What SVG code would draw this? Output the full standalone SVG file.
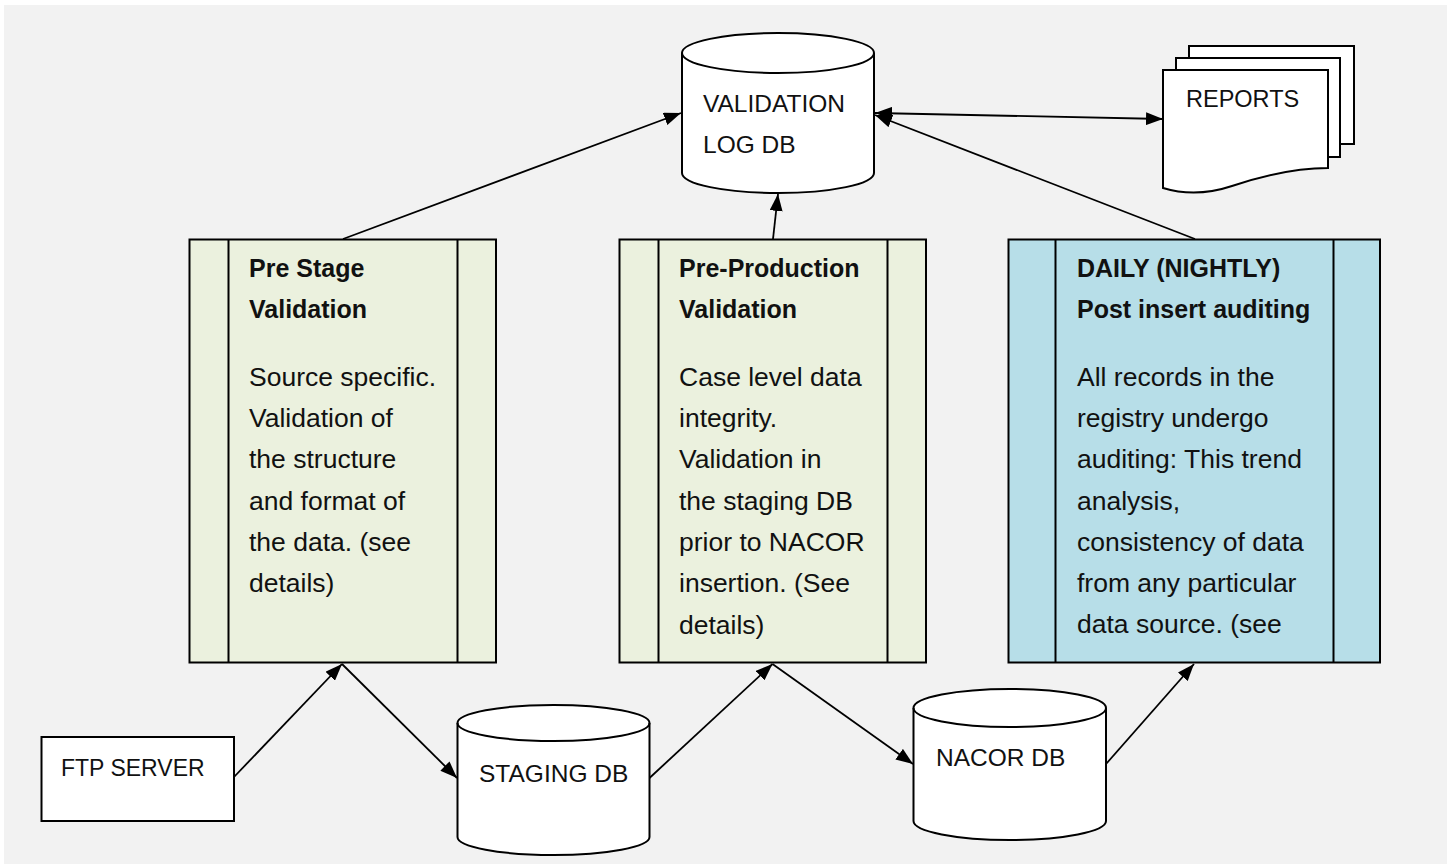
<svg xmlns="http://www.w3.org/2000/svg" width="1447" height="864" viewBox="0 0 1447 864">
<style>
.shape{stroke:#000;stroke-width:2;}
.white{fill:#fff;}
.green{fill:#ebf1de;}
.blue{fill:#b7dee8;}
.lbl{font-family:"Liberation Sans",Arial,sans-serif;font-size:24.5px;fill:#111;}
.ttl{font-family:"Liberation Sans",Arial,sans-serif;font-size:25px;font-weight:bold;fill:#111;}
.body{font-family:"Liberation Sans",Arial,sans-serif;font-size:26.5px;fill:#111;}
.conn{stroke:#000;stroke-width:1.8;fill:none;marker-end:url(#ah);}
</style>
<defs>
<marker id="ah" markerUnits="userSpaceOnUse" markerWidth="17" markerHeight="13" refX="17" refY="6.5" orient="auto-start-reverse">
<path d="M0,0 L17,6.5 L0,13 Z" fill="#000"/>
</marker>
</defs>
<rect x="4" y="5" width="1443" height="859" fill="#f2f2f2"/>

<g id="validation-log-db">
<path class="shape white" d="M682,53 L682,173 A96,20 0 0 0 874,173 L874,53 A96,20 0 0 0 682,53 Z"/>
<path class="shape" fill="none" d="M682,53 A96,20 0 0 0 874,53"/>
<text class="lbl" x="703" y="112">VALIDATION</text>
<text class="lbl" x="703" y="153">LOG DB</text>
</g>

<g id="reports">
<rect class="shape white" x="1189" y="46" width="165" height="98"/>
<rect class="shape white" x="1176" y="58" width="164" height="99"/>
<path class="shape white" d="M1163,70 H1328 V168 C1295,168 1262,176 1232,186 C1208,194 1186,195 1163,188 Z"/>
<text class="lbl" x="1186" y="107" style="font-size:23.5px">REPORTS</text>
</g>

<g id="pre-stage-validation">
<rect class="shape green" x="189.5" y="239.5" width="306.5" height="423"/>
<line class="shape" x1="228.5" y1="239.5" x2="228.5" y2="662.5"/>
<line class="shape" x1="457.5" y1="239.5" x2="457.5" y2="662.5"/>
<text class="ttl" x="249" y="277">Pre Stage</text>
<text class="ttl" x="249" y="318">Validation</text>
<text class="body" x="249" y="386">Source specific.</text>
<text class="body" x="249" y="427">Validation of</text>
<text class="body" x="249" y="468">the structure</text>
<text class="body" x="249" y="510">and format of</text>
<text class="body" x="249" y="551">the data. (see</text>
<text class="body" x="249" y="592">details)</text>
</g>

<g id="pre-production-validation">
<rect class="shape green" x="619.5" y="239.5" width="306.5" height="423"/>
<line class="shape" x1="658.5" y1="239.5" x2="658.5" y2="662.5"/>
<line class="shape" x1="887.5" y1="239.5" x2="887.5" y2="662.5"/>
<text class="ttl" x="679" y="277">Pre-Production</text>
<text class="ttl" x="679" y="318">Validation</text>
<text class="body" x="679" y="386">Case level data</text>
<text class="body" x="679" y="427">integrity.</text>
<text class="body" x="679" y="468">Validation in</text>
<text class="body" x="679" y="510">the staging DB</text>
<text class="body" x="679" y="551">prior to NACOR</text>
<text class="body" x="679" y="592">insertion. (See</text>
<text class="body" x="679" y="634">details)</text>
</g>

<g id="daily-post-insert-auditing">
<rect class="shape blue" x="1008.5" y="239.5" width="371.5" height="423"/>
<line class="shape" x1="1055.5" y1="239.5" x2="1055.5" y2="662.5"/>
<line class="shape" x1="1333.5" y1="239.5" x2="1333.5" y2="662.5"/>
<text class="ttl" x="1077" y="277">DAILY (NIGHTLY)</text>
<text class="ttl" x="1077" y="318">Post insert auditing</text>
<text class="body" x="1077" y="386">All records in the</text>
<text class="body" x="1077" y="427">registry undergo</text>
<text class="body" x="1077" y="468">auditing: This trend</text>
<text class="body" x="1077" y="510">analysis,</text>
<text class="body" x="1077" y="551">consistency of data</text>
<text class="body" x="1077" y="592">from any particular</text>
<text class="body" x="1077" y="633">data source. (see</text>
</g>

<g id="ftp-server">
<rect class="shape white" x="41.5" y="737" width="192.5" height="84"/>
<text class="lbl" x="61" y="776" style="font-size:23px">FTP SERVER</text>
</g>

<g id="staging-db">
<path class="shape white" d="M457.5,723 L457.5,837 A96,18 0 0 0 649.5,837 L649.5,723 A96,18 0 0 0 457.5,723 Z"/>
<path class="shape" fill="none" d="M457.5,723 A96,18 0 0 0 649.5,723"/>
<text class="lbl" x="479" y="782">STAGING DB</text>
</g>

<g id="nacor-db">
<path class="shape white" d="M913.5,708 L913.5,821 A96.25,19 0 0 0 1106,821 L1106,708 A96.25,19 0 0 0 913.5,708 Z"/>
<path class="shape" fill="none" d="M913.5,708 A96.25,19 0 0 0 1106,708"/>
<text class="lbl" x="936" y="766">NACOR DB</text>
</g>

<g id="connectors">
<line class="conn" x1="234" y1="777" x2="342" y2="664"/>
<line class="conn" x1="342" y1="664" x2="457" y2="778"/>
<line class="conn" x1="649.5" y1="778" x2="772.5" y2="664"/>
<line class="conn" x1="772.5" y1="664" x2="913" y2="764"/>
<line class="conn" x1="1106" y1="764" x2="1194" y2="664"/>
<line class="conn" x1="343" y1="239" x2="681" y2="113"/>
<line class="conn" x1="773" y1="239" x2="778" y2="194"/>
<line class="conn" x1="1195" y1="239" x2="875" y2="115"/>
<line class="conn" x1="875" y1="113" x2="1163" y2="119" style="marker-start:url(#ah)"/>
</g>
</svg>
